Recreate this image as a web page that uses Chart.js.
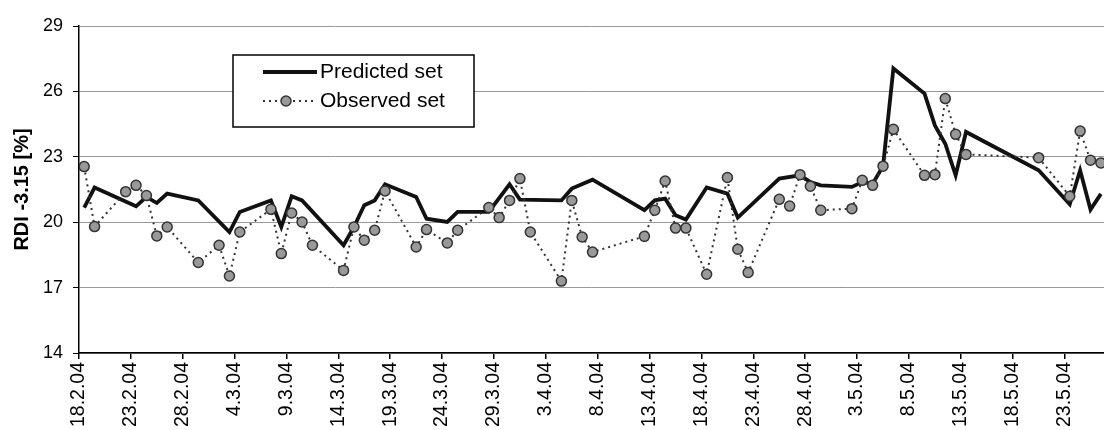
<!DOCTYPE html>
<html>
<head>
<meta charset="utf-8">
<title>RDI -3.15 predicted vs observed</title>
<script src="https://cdn.jsdelivr.net/npm/chart.js@4.4.1/dist/chart.umd.min.js"></script>
<style>
  html, body { margin: 0; padding: 0; background: #fff; }
  #wrap { width: 1104px; height: 430px; }
</style>
</head>
<body>
<div id="wrap"><canvas id="chart" width="1104" height="430"></canvas></div>
<script>
// x values are days counted from 18.2.04 (2004 is a leap year)
const TICK_LABELS = ["18.2.04","23.2.04","28.2.04","4.3.04","9.3.04","14.3.04","19.3.04","24.3.04","29.3.04","3.4.04",
                     "8.4.04","13.4.04","18.4.04","23.4.04","28.4.04","3.5.04","8.5.04","13.5.04","18.5.04","23.5.04"];
const TICK_STEP = 5;

const PRED_DAYS   = [0, 1, 5, 6, 7, 8, 11, 14, 15, 18, 19, 20, 21, 25, 26, 27, 28, 29, 32, 33, 35, 36, 39, 41, 42, 46, 47, 49,
                     54, 55, 56, 57, 58, 60, 62, 63, 67, 69, 70, 71, 74, 75, 76, 77, 78, 81, 82, 83, 84, 85, 92, 95, 96, 97, 98];
const PRED_VALUES = [20.67, 21.59, 20.73, 21.16, 20.88, 21.31, 21.0, 19.55, 20.47, 21.0, 19.78, 21.19, 21.0, 18.94, 19.78, 20.78, 21.0, 21.74,
                     21.16, 20.16, 20.01, 20.47, 20.47, 21.74, 21.04, 21.0, 21.54, 21.95,
                     20.55, 21.0, 21.08, 20.32, 20.12, 21.59, 21.31, 20.21, 22.0, 22.15, 21.84, 21.69, 21.62, 21.84, 21.77, 22.57,
                     27.05, 25.9, 24.44, 23.6, 22.15, 24.14, 22.38, 20.82, 22.38, 20.58, 21.3];

const OBS_DAYS   = [0, 1, 4, 5, 6, 7, 8, 11, 13, 14, 15, 18, 19, 20, 21, 22, 25, 26, 27, 28, 29, 32, 33, 35, 36, 39, 40, 41, 42, 43,
                    46, 47, 48, 49, 54, 55, 56, 57, 58, 60, 62, 63, 64, 67, 68, 69, 70, 71, 74, 75, 76, 77, 78, 81, 82, 83, 84, 85,
                    92, 95, 96, 97, 98];
const OBS_VALUES = [22.55, 19.8, 21.4, 21.69, 21.22, 19.37, 19.78, 18.15, 18.94, 17.53, 19.55, 20.59, 18.56, 20.42, 20.01, 18.94,
                    17.79, 19.78, 19.17, 19.63, 21.43, 18.86, 19.66, 19.05, 19.63, 20.67, 20.21, 21.0, 22.0, 19.55,
                    17.3, 21.0, 19.32, 18.63, 19.35, 20.55, 21.89, 19.73, 19.73, 17.61, 22.05, 18.76, 17.69, 21.05, 20.74, 22.18,
                    21.65, 20.55, 20.62, 21.92, 21.69, 22.57, 24.26, 22.15, 22.18, 25.67, 24.03, 23.11,
                    22.96, 21.19, 24.18, 22.84, 22.72];

const Y_MIN = 14, Y_MAX = 29, Y_STEP = 3;
const X_MAX = 98.8;
const FONT = "'Liberation Sans', Arial, Helvetica, sans-serif";

// points sit in the middle of their day, between tick marks
function toPoints(days, vals){ return days.map((d, i) => ({ x: d + 0.5, y: vals[i] })); }

// legend box drawn inside the plot, white filled over the grid
const legendBox = {
  id: "legendBox",
  afterDraw(chart){
    const ctx = chart.ctx;
    const [pred, obs] = chart.data.datasets;
    const bx = 233, by = 55, bw = 241, bh = 72;
    ctx.save();
    ctx.fillStyle = "#fff";
    ctx.fillRect(bx, by, bw, bh);
    ctx.strokeStyle = "#000";
    ctx.lineWidth = 1.5;
    ctx.strokeRect(bx, by, bw, bh);

    const x0 = 263, x1 = 317, r1 = 72, r2 = 101;
    ctx.beginPath();
    ctx.strokeStyle = pred.borderColor;
    ctx.lineWidth = pred.borderWidth;
    ctx.moveTo(x0, r1); ctx.lineTo(x1, r1);
    ctx.stroke();

    ctx.beginPath();
    ctx.setLineDash(obs.borderDash);
    ctx.strokeStyle = obs.borderColor;
    ctx.lineWidth = obs.borderWidth;
    ctx.moveTo(x0, r2); ctx.lineTo(x1, r2);
    ctx.stroke();
    ctx.setLineDash([]);
    ctx.beginPath();
    ctx.arc(286, r2, obs.pointRadius, 0, Math.PI * 2);
    ctx.fillStyle = obs.pointBackgroundColor;
    ctx.fill();
    ctx.lineWidth = obs.pointBorderWidth;
    ctx.strokeStyle = obs.pointBorderColor;
    ctx.stroke();

    ctx.fillStyle = "#000";
    ctx.font = "21px " + FONT;
    ctx.textBaseline = "middle";
    ctx.textAlign = "left";
    ctx.fillText(pred.label, 320, r1);
    ctx.fillText(obs.label, 320, r2);
    ctx.restore();
  }
};

new Chart(document.getElementById("chart"), {
  type: "line",
  data: {
    datasets: [
      {
        label: "Predicted set",
        data: toPoints(PRED_DAYS, PRED_VALUES),
        borderColor: "#111",
        borderWidth: 3.8,
        pointRadius: 0,
        tension: 0,
        order: 1
      },
      {
        label: "Observed set",
        data: toPoints(OBS_DAYS, OBS_VALUES),
        borderColor: "#333",
        borderWidth: 2,
        borderDash: [2, 4],
        pointRadius: 5,
        pointBackgroundColor: "#999",
        pointBorderColor: "#333",
        pointBorderWidth: 1.5,
        tension: 0,
        order: 0
      }
    ]
  },
  options: {
    responsive: false,
    animation: false,
    layout: { autoPadding: false, padding: { top: 26, right: 0, bottom: 0, left: 0 } },
    plugins: { legend: { display: false }, tooltip: { enabled: false } },
    scales: {
      x: {
        type: "linear",
        min: 0,
        max: X_MAX,
        afterBuildTicks: (scale) => { scale.ticks = TICK_LABELS.map((_, i) => ({ value: i * TICK_STEP })); },
        afterFit: (scale) => { scale.height = 77; scale.paddingLeft = 0; scale.paddingRight = 0; },
        border: { display: true, color: "#000", width: 1.5 },
        grid: { drawOnChartArea: false, drawTicks: true, tickLength: 6, tickColor: "#000", lineWidth: 1.5 },
        ticks: {
          autoSkip: false,
          minRotation: 90,
          maxRotation: 90,
          padding: 3,
          color: "#000",
          font: { family: FONT, size: 19.5 },
          callback: (v) => TICK_LABELS[Math.round(v / TICK_STEP)]
        }
      },
      y: {
        min: Y_MIN,
        max: Y_MAX,
        afterFit: (scale) => { scale.width = 79; },
        border: { display: true, color: "#000", width: 1.5 },
        grid: { color: "#999", lineWidth: 1, drawTicks: true, tickLength: 6, tickColor: "#000" },
        ticks: {
          stepSize: Y_STEP,
          padding: 10,
          color: "#000",
          font: { family: FONT, size: 18 }
        },
        title: {
          display: true,
          text: "RDI -3.15 [%]",
          color: "#000",
          padding: { top: 10, bottom: 0 },
          font: { family: FONT, size: 20, weight: "bold" }
        }
      }
    }
  },
  plugins: [legendBox]
});
</script>
</body>
</html>
